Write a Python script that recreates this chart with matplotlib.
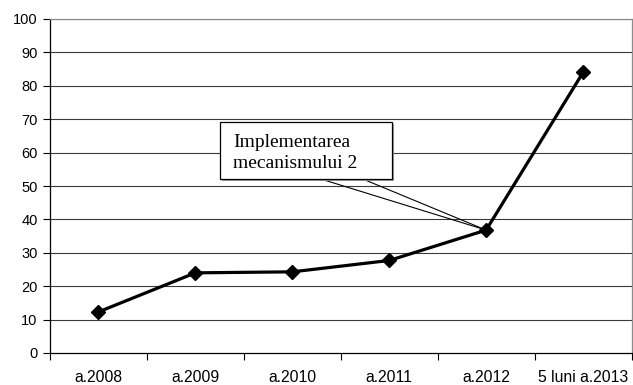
import numpy as np
import matplotlib
matplotlib.use("Agg")
import matplotlib.pyplot as plt
from matplotlib.patches import Rectangle

# data
categories = ["a.2008", "a.2009", "a.2010", "a.2011", "a.2012", "5 luni a.2013"]
values = [12.3, 24.0, 24.3, 27.7, 36.8, 84.0]
y_ticks = [0, 10, 20, 30, 40, 50, 60, 70, 80, 90, 100]
note_lines = ["Implementarea", "mecanismului 2"]
note_target = 4  # index of the point the callout points to

W, H = 633, 385
fig = plt.figure(figsize=(W / 100, H / 100), dpi=100)
ax = fig.add_axes([50 / W, 1 - 353 / H, (631.5 - 50) / W, (353 - 19) / H])

x = np.arange(len(categories))

# grid
for t in y_ticks[1:]:
    ax.axhline(t, color="#3a3a3a", lw=0.8, zorder=1)

ax.plot(x, values, color="black", lw=2.3, marker="D", markersize=7,
        markerfacecolor="black", zorder=4, clip_on=False)

ax.set_xlim(-0.5, len(categories) - 0.5)
ax.set_ylim(0, 100)
ax.set_yticks(y_ticks)
ax.set_yticklabels([str(t) for t in y_ticks])

# category axis: ticks on boundaries, labels at centers
ax.set_xticks(np.arange(len(categories) + 1) - 0.5)
ax.set_xticklabels([])
ax.set_xticks(x, minor=True)
ax.set_xticklabels(categories, minor=True)
ax.tick_params(axis="x", which="minor", length=0, pad=12)
ax.tick_params(axis="x", which="major", length=5, width=0.8, direction="out")
ax.tick_params(axis="y", length=5, width=0.8, direction="out", pad=4)
for lab in ax.get_xticklabels(minor=True):
    lab.set_fontfamily("Liberation Sans")
    lab.set_fontsize(11.3)
for lab in ax.get_yticklabels():
    lab.set_fontfamily("Liberation Sans")
    lab.set_fontsize(10.5)

ax.spines["left"].set_color("black")
ax.spines["bottom"].set_color("black")
ax.spines["top"].set_color("#8c8c8c")
ax.spines["right"].set_color("#8c8c8c")
for s in ax.spines.values():
    s.set_linewidth(0.9)

# callout box
bx0, bx1, by0, by1 = 1.253, 3.026, 52.1, 69.2
tx, ty = note_target, values[note_target]
for sx in (2.294, 2.727):
    ax.plot([sx, tx], [by0, ty], color="black", lw=0.8, zorder=3)
ax.add_patch(Rectangle((bx0 + 0.02, by0 - 0.6), bx1 - bx0, by1 - by0,
                       facecolor="#9a9a9a", edgecolor="none", zorder=4.5))
ax.add_patch(Rectangle((bx0, by0), bx1 - bx0, by1 - by0, facecolor="white",
                       edgecolor="black", lw=0.9, zorder=5))
ax.text(1.387, 61.7, note_lines[0], ha="left", va="baseline",
        fontsize=14, family="Liberation Serif", zorder=6)
ax.text(1.387, 55.4, note_lines[1], ha="left", va="baseline",
        fontsize=14, family="Liberation Serif", zorder=6)

fig.savefig("out.png", dpi=100)
